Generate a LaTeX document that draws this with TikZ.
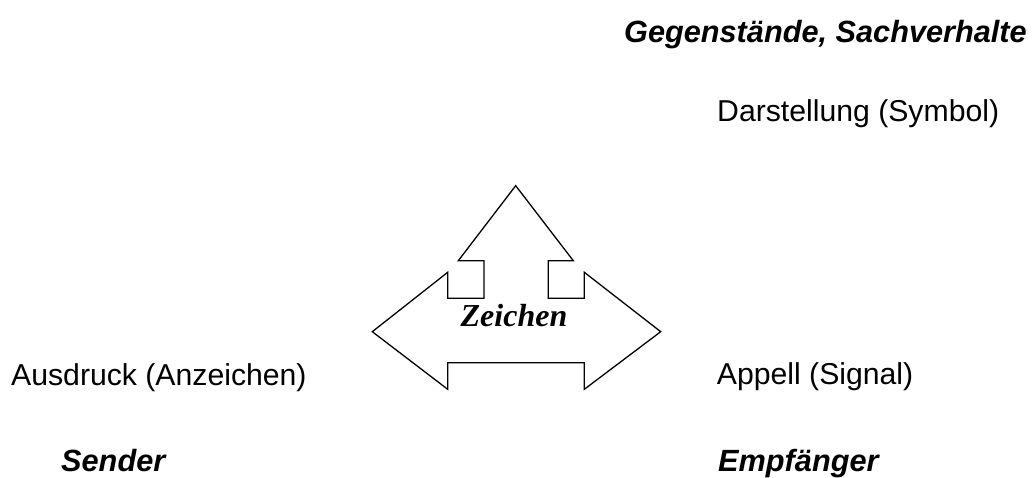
\documentclass[tikz,border=0pt]{standalone}
\usepackage{fontspec}
\setmainfont{Liberation Serif}
\setsansfont{Liberation Sans}
\begin{document}
\begin{tikzpicture}[x=1pt,y=-1pt,
  lbl/.style={font=\sffamily\fontsize{30.2}{36}\selectfont, inner sep=0pt, anchor=base west},
  role/.style={lbl, font=\sffamily\bfseries\itshape\fontsize{30.7}{36}\selectfont},
  sign/.style={draw=black, line width=1.3pt, line join=miter, fill=white}]
\useasboundingbox (0,0) rectangle (1034,478);

% three-headed block arrow
\draw[sign] (515.7,185.7) -- (573.3,260.7) -- (548.3,260.7) -- (548.3,298.3)
  -- (584.3,298.3) -- (584.3,272.3) -- (660.7,331.7) -- (584.3,389.3)
  -- (584.3,362.7) -- (447.7,362.7) -- (447.7,389.3) -- (372.3,331.7)
  -- (447.7,272.3) -- (447.7,298.3) -- (484,298.3) -- (484,260.7)
  -- (458.3,260.7) -- cycle;
\node[inner sep=0pt, anchor=base, font=\rmfamily\bfseries\itshape\fontsize{32}{38}\selectfont]
  (zeichen) at (514,326.7) {Zeichen};

\node[role, anchor=base east] (gegen) at (1027,43) {Gegenstände, Sachverhalte};
\node[lbl] (darst) at (717,122) {Darstellung (Symbol)};
\node[lbl] (ausdr) at (11,385) {Ausdruck (Anzeichen)};
\node[lbl] (appell) at (716.7,384.3) {Appell (Signal)};
\node[role] (sender) at (61,471.5) {Sender};
\node[role] (empf) at (718,471) {Empfänger};
\end{tikzpicture}
\end{document}
